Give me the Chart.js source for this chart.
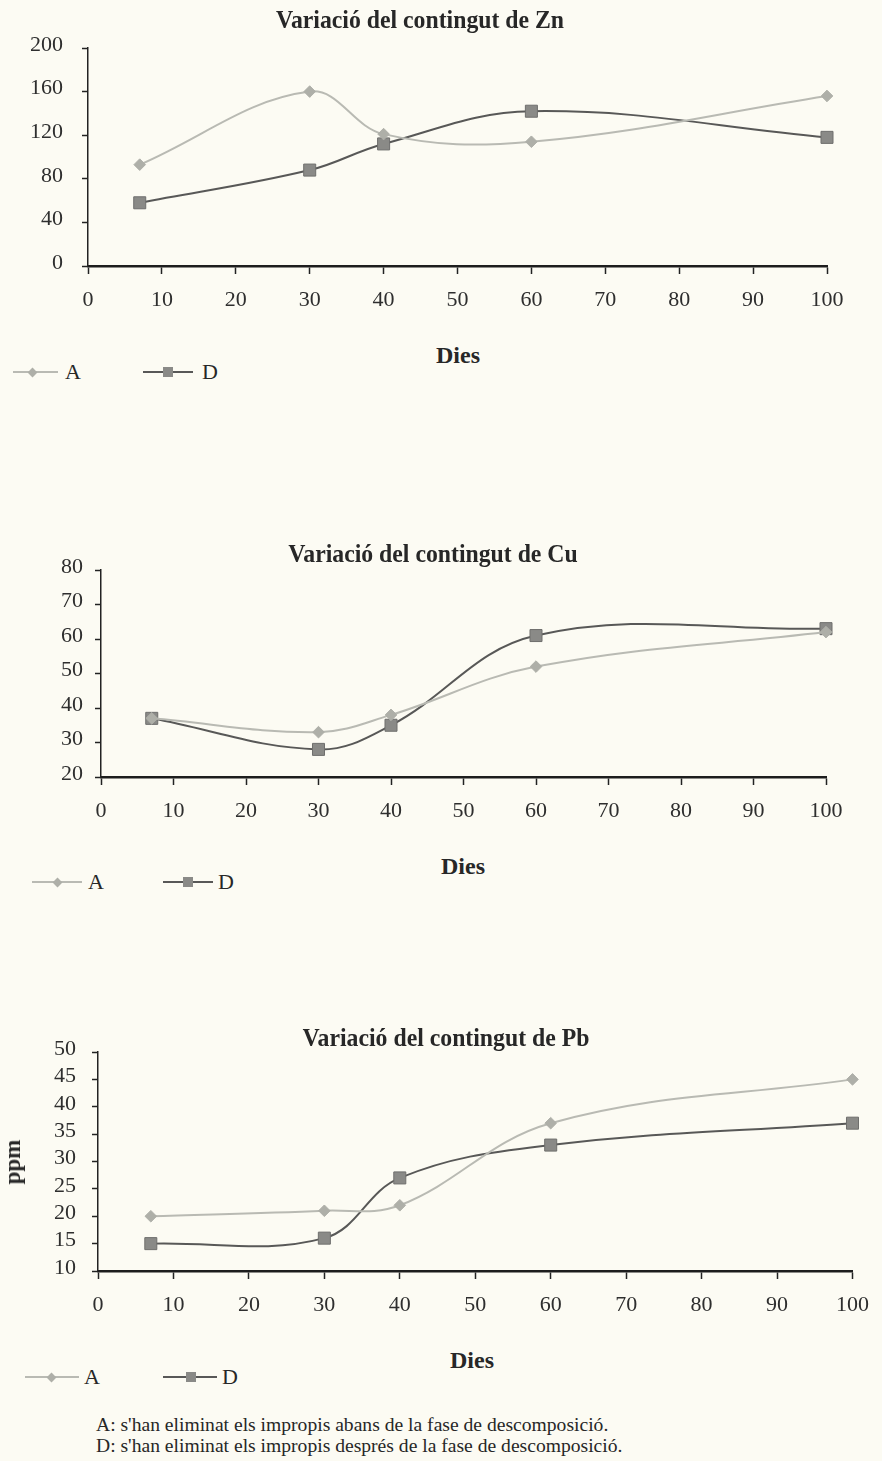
<!DOCTYPE html>
<html lang="ca">
<head>
<meta charset="utf-8">
<title>Variació del contingut de Zn, Cu i Pb</title>
<script src="https://cdn.jsdelivr.net/npm/chart.js@4.4.1/dist/chart.umd.min.js"></script>
<style>
  html, body { margin: 0; padding: 0; }
  body {
    width: 882px; height: 1461px; position: relative; overflow: hidden;
    background: #fcfbf3; color: #272727;
    font-family: "Liberation Serif", "Times New Roman", serif;
  }
  canvas { position: absolute; left: 0; }
  .titol, .eix, .ppm { position: absolute; font-weight: bold; white-space: nowrap; }
  .titol { font-size: 25px; transform: translate(-50%, -50%) scaleX(.95); }
  .eix { font-size: 24px; transform: translate(-50%, -50%); }
  .ppm { font-size: 23px; transform: translate(-50%, -50%) rotate(-90deg); }
  .tram { position: absolute; height: 2px; }
  .marca { position: absolute; }
  .lletra { position: absolute; font-size: 22px; line-height: 24px; }
  .nota { position: absolute; left: 96px; font-size: 19.6px; line-height: 20px; white-space: nowrap; }
</style>
</head>
<body>
<canvas id="zn"></canvas>
<canvas id="cu"></canvas>
<canvas id="pb"></canvas>

<div class="nota" style="top:1415px">A: s'han eliminat els impropis abans de la fase de descomposició.</div>
<div class="nota" style="top:1436px">D: s'han eliminat els impropis després de la fase de descomposició.</div>

<script>
// dies de mostreig (eix X)
const dies = [7, 30, 40, 60, 100];
const xTicks = [0, 100, 10];          // min, max, pas

// Zn (ppm)
const znA = [93, 160, 121, 114, 156];
const znD = [58, 88, 112, 142, 118];
const znTicks = [0, 200, 40];

// Cu (ppm)
const cuA = [37, 33, 38, 52, 62];
const cuD = [37, 28, 35, 61, 63];
const cuTicks = [20, 80, 10];

// Pb (ppm)
const pbA = [20, 21, 22, 37, 45];
const pbD = [15, 16, 27, 33, 37];
const pbTicks = [10, 50, 5];

const COL_A = '#b9bab3', COL_A_MARCA = '#aeafa8';
const COL_D = '#585857', COL_D_MARCA = '#8a8a87';
const TXT = '#2e2e2e';
const SERIF = '"Liberation Serif", "Times New Roman", serif';

const grafics = [
  { id: 'zn', titol: 'Variació del contingut de Zn', a: znA, d: znD, y: znTicks,
    top: 0, h: 330, area: { left: 88, right: 827, top: 48, bottom: 266 }, yPad: 19,
    titolPos: [420, 20], diesPos: [458, 355],
    lleg: { y: 372, a: [13, 58, 32, 65], d: [143, 193, 168, 202] } },
  { id: 'cu', titol: 'Variació del contingut de Cu', a: cuA, d: cuD, y: cuTicks,
    top: 530, h: 320, area: { left: 101, right: 826, top: 570, bottom: 777 }, yPad: 12,
    titolPos: [433, 554], diesPos: [463, 866],
    lleg: { y: 882, a: [32, 82, 57, 88], d: [163, 213, 188, 218] } },
  { id: 'pb', titol: 'Variació del contingut de Pb', a: pbA, d: pbD, y: pbTicks,
    top: 1010, h: 320, area: { left: 98, right: 861, top: 1052, bottom: 1271 }, yPad: 16,
    titolPos: [446, 1038], diesPos: [472, 1360], ppmPos: [13, 1162],
    lleg: { y: 1377, a: [25, 79, 51, 84], d: [163, 217, 191, 222] } }
];

function afegeix(cls, text, x, y) {
  const el = document.createElement('div');
  el.className = cls;
  el.textContent = text;
  el.style.left = x + 'px';
  el.style.top = y + 'px';
  document.body.appendChild(el);
  return el;
}

// línia + marcador + lletra, com la llegenda d'Excel
function llegenda(y, pos, color, colMarca, diamant, lletra) {
  const [x1, x2, xm, xl] = pos;
  const tram = afegeix('tram', '', x1, y - 1);
  tram.style.width = (x2 - x1) + 'px';
  tram.style.background = color;
  const m = afegeix('marca', '', 0, 0);
  if (diamant) {
    m.style.width = m.style.height = '7px';
    m.style.left = (xm - 3.5) + 'px';
    m.style.top = (y - 3.5) + 'px';
    m.style.transform = 'rotate(45deg)';
  } else {
    m.style.width = '10px'; m.style.height = '10px';
    m.style.left = (xm - 5) + 'px';
    m.style.top = (y - 5) + 'px';
  }
  m.style.background = colMarca;
  afegeix('lletra', lletra, xl, y - 12);
}

function dibuixa(g) {
  const W = 882;
  const cv = document.getElementById(g.id);
  cv.width = W; cv.height = g.h;
  cv.style.top = g.top + 'px';
  const ar = g.area;
  const punts = vals => dies.map((x, i) => ({ x, y: vals[i] }));

  new Chart(cv, {
    type: 'line',
    data: {
      datasets: [
        { label: 'A', data: punts(g.a), borderColor: COL_A, borderWidth: 2,
          backgroundColor: COL_A_MARCA, pointBackgroundColor: COL_A_MARCA,
          pointBorderColor: COL_A_MARCA, pointBorderWidth: 1,
          pointStyle: 'rectRot', pointRadius: 5.8, tension: 0.38, clip: false },
        { label: 'D', data: punts(g.d), borderColor: COL_D, borderWidth: 2,
          backgroundColor: COL_D_MARCA, pointBackgroundColor: COL_D_MARCA,
          pointBorderColor: '#6f6f6d', pointBorderWidth: 1,
          pointStyle: 'rect', pointRadius: 8.5, tension: 0.38, clip: false }
      ]
    },
    options: {
      responsive: false,
      animation: false,
      events: [],
      layout: { padding: { left: 0, top: ar.top - g.top, right: W - ar.right, bottom: 0 } },
      plugins: { legend: { display: false }, title: { display: false }, tooltip: { enabled: false } },
      scales: {
        x: {
          type: 'linear', position: 'bottom',
          min: xTicks[0], max: xTicks[1],
          afterFit: s => { s.height = g.top + g.h - ar.bottom; },
          ticks: { stepSize: xTicks[2], padding: 13, maxRotation: 0, autoSkip: false,
                   color: TXT, font: { family: SERIF, size: 22 } },
          grid: { drawOnChartArea: false, drawTicks: true, tickLength: 8,
                  tickWidth: 1.5, tickColor: '#222' },
          border: { display: true, color: '#1d1d1d', width: 2.5 }
        },
        y: {
          min: g.y[0], max: g.y[1],
          afterFit: s => { s.width = ar.left; },
          ticks: { stepSize: g.y[2], padding: g.yPad, labelOffset: -3, autoSkip: false,
                   color: TXT, font: { family: SERIF, size: 22 } },
          grid: { drawOnChartArea: false, drawTicks: true, tickLength: 6,
                  tickWidth: 1.5, tickColor: '#222' },
          border: { display: true, color: '#222', width: 1.5 }
        }
      }
    }
  });

  afegeix('titol', g.titol, g.titolPos[0], g.titolPos[1]);
  afegeix('eix', 'Dies', g.diesPos[0], g.diesPos[1]);
  if (g.ppmPos) afegeix('ppm', 'ppm', g.ppmPos[0], g.ppmPos[1]);
  llegenda(g.lleg.y, g.lleg.a, COL_A, COL_A_MARCA, true, 'A');
  llegenda(g.lleg.y, g.lleg.d, COL_D, COL_D_MARCA, false, 'D');
}

grafics.forEach(dibuixa);
</script>
</body>
</html>
